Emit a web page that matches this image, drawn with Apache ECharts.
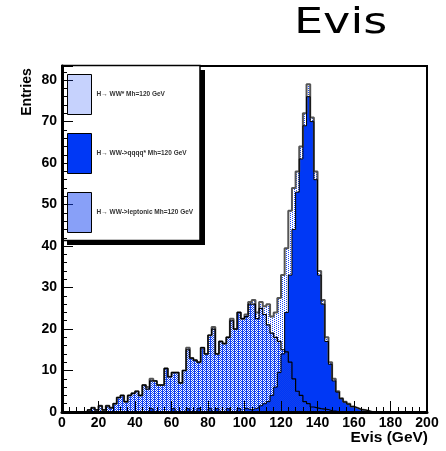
<!DOCTYPE html>
<html>
<head>
<meta charset="utf-8">
<script src="https://cdn.jsdelivr.net/npm/echarts@6/dist/echarts.min.js"></script>
<style>
  html, body { margin: 0; padding: 0; background: #fff; }
  #chart { width: 446px; height: 451px; }
</style>
</head>
<body>
<div id="chart"></div>
<script>
// Evis histograms, 2 GeV bins from 0 to 200 GeV
const BIN_WIDTH = 2;
const seriesNames = ['H\u2192 WW* Mh=120 GeV', 'H\u2192 WW->qqqq* Mh=120 GeV', 'H\u2192 WW->leptonic Mh=120 GeV'];

// all H->WW* events
const totalCounts = [
  0, 0, 0, 0, 0, 0, 0, 0.5, 1, 0.5,
  1.5, 0.5, 1.5, 1, 2, 3.5, 4, 2.5, 4, 4.5,
  5, 4, 6.5, 6, 8, 7.5, 6.5, 6.5, 10.5, 8.5,
  9.5, 9.5, 7, 10, 15.5, 13, 12.5, 12, 15.5, 14,
  18.5, 20.5, 14, 17, 16.5, 18, 22.5, 20, 24, 22.5,
  23.5, 26.5, 27, 24, 26.5, 25.5, 26, 23, 24, 27.5,
  33, 39.5, 48.5, 54, 58, 64, 72, 79, 71, 58,
  34, 27, 18, 12, 8, 5, 3.3, 2.5, 2, 1.3,
  1, 0.6, 0.5, 0.3, 0, 0, 0, 0, 0, 0,
  0, 0, 0, 0, 0, 0, 0, 0, 0, 0
];
// WW -> qqqq
const qqqqCounts = [
  0, 0, 0, 0, 0, 0, 0, 0, 0, 0,
  0, 0, 0, 0, 0, 0, 0, 0, 0, 0,
  0, 0, 0, 0, 0.8, 0, 0, 0, 0, 0,
  0.8, 0, 0, 0, 0.8, 0, 0, 0.8, 0, 0,
  0.8, 0, 0.8, 0, 0, 0.8, 0, 0, 0.8, 0,
  0.8, 0.5, 0.8, 1, 1.5, 2, 2.5, 4, 6, 9.5,
  14, 24, 33, 44, 53, 61, 69, 76, 70, 56,
  33, 26, 17, 11.5, 7.5, 4.8, 3.2, 2.4, 1.9, 1.3,
  1, 0.6, 0.5, 0.3, 0, 0, 0, 0, 0, 0,
  0, 0, 0, 0, 0, 0, 0, 0, 0, 0
];
// WW -> leptonic
const leptonicCounts = [
  0, 0, 0, 0, 0, 0, 0, 0.5, 1, 0.5,
  1.5, 0.5, 1.5, 1, 2, 3.5, 4, 2.5, 4, 4.5,
  5, 4, 6.5, 5.5, 7.5, 7.5, 6.5, 6.5, 10.5, 8.5,
  9.5, 9.5, 7, 10, 15, 13, 12.5, 12, 15.5, 14,
  18.5, 20, 14, 17, 16.5, 18, 22, 20, 24, 22.5,
  23, 26, 26, 22.5, 25, 23.5, 21, 19, 18, 17,
  15, 14.5, 12, 8, 5, 4, 2.5, 2, 1.2, 1,
  0.8, 0.7, 0.6, 0.3, 0.2, 0, 0, 0, 0, 0,
  0, 0, 0, 0, 0, 0, 0, 0, 0, 0,
  0, 0, 0, 0, 0, 0, 0, 0, 0, 0
];
const xTicks = [0, 20, 40, 60, 80, 100, 120, 140, 160, 180, 200];
const yTicks = [0, 10, 20, 30, 40, 50, 60, 70, 80];

// step data: low edge of each bin plus the closing edge
function stepData(counts) {
  const pts = counts.map((v, i) => [i * BIN_WIDTH, v]);
  pts.push([counts.length * BIN_WIDTH, counts[counts.length - 1]]);
  return pts;
}

// ROOT style fill patterns (transparent background)
function makePattern(w, h, pixels, color) {
  const c = document.createElement('canvas');
  c.width = w; c.height = h;
  const ctx = c.getContext('2d');
  ctx.fillStyle = color;
  pixels.forEach(p => ctx.fillRect(p[0], p[1], 1, 1));
  return { image: c, repeat: 'repeat' };
}
const BLUE = '#0038f5';
const dotFill = makePattern(4, 2, [[0, 0], [2, 1]], '#1a48f5');
const checkFill = makePattern(2, 2, [[0, 0], [1, 1]], '#1040f0');

const FONT = '"Liberation Sans", Arial, sans-serif';
const chart = echarts.init(document.getElementById('chart'), null, { renderer: 'canvas' });

chart.setOption({
  animation: false,
  backgroundColor: '#fff',
  grid: {
    left: 62, right: 19, top: 66, bottom: 39,
    show: true, borderColor: '#000', borderWidth: 2, backgroundColor: 'transparent'
  },
  xAxis: {
    type: 'value', min: 0, max: 200, interval: 20, z: 10,
    axisLine: { onZero: false, lineStyle: { color: '#000', width: 3 } },
    axisTick: { inside: true, length: 11, lineStyle: { color: '#000', width: 1 } },
    minorTick: { show: true, splitNumber: 5, length: 5, lineStyle: { color: '#000', width: 1 } },
    splitLine: { show: false },
    axisLabel: {
      margin: 4, color: '#000', fontWeight: 'bold', fontSize: 14, fontFamily: FONT,
      formatter: v => (xTicks.indexOf(v) >= 0 ? String(v) : '')
    }
  },
  yAxis: {
    type: 'value', min: 0, max: 83.4, interval: 10, z: 10,
    axisLine: { onZero: false, lineStyle: { color: '#000', width: 3 } },
    axisTick: { inside: true, length: 11, lineStyle: { color: '#000', width: 1 } },
    minorTick: { show: true, splitNumber: 5, length: 5, lineStyle: { color: '#000', width: 1 } },
    splitLine: { show: false },
    axisLabel: {
      margin: 5, color: '#000', fontWeight: 'bold', fontSize: 14, fontFamily: FONT,
      showMaxLabel: false,
      formatter: v => (yTicks.indexOf(v) >= 0 ? String(v) : '')
    }
  },
  legend: {
    orient: 'vertical', left: 62, top: 69, z: 20, padding: 5,
    itemWidth: 24, itemHeight: 40, itemGap: 18, icon: 'rect',
    selectedMode: false,
    textStyle: { fontSize: 6.5, fontWeight: 'bold', color: '#333', fontFamily: FONT },
    data: [
      { name: seriesNames[0], itemStyle: { color: dotFill, borderColor: '#000', borderWidth: 1 } },
      { name: seriesNames[1], itemStyle: { color: BLUE, borderColor: '#000', borderWidth: 1 } },
      { name: seriesNames[2], itemStyle: { color: checkFill, borderColor: '#000', borderWidth: 1 } }
    ]
  },
  graphic: [
    // legend box with shadow
    { type: 'rect', z: 5, shape: { x: 200, y: 70, width: 5, height: 175 }, style: { fill: '#000' } },
    { type: 'rect', z: 5, shape: { x: 67, y: 240, width: 138, height: 5 }, style: { fill: '#000' } },
    { type: 'rect', z: 5, shape: { x: 62, y: 65.5, width: 138, height: 175 }, style: { fill: '#fff', stroke: '#000', lineWidth: 1.5 } },
    { type: 'text', x: 294, y: 24, scaleX: 1.28, z: 5,
      style: { text: 'Evis', font: '36px "DejaVu Sans", sans-serif', fill: '#000', align: 'left', verticalAlign: 'middle' } },
    { type: 'text', x: 27, y: 92, rotation: Math.PI / 2, z: 5,
      style: { text: 'Entries', font: 'bold 14px ' + FONT, fill: '#000', align: 'center', verticalAlign: 'middle' } },
    { type: 'text', x: 428, y: 438, z: 5,
      style: { text: 'Evis (GeV)', font: 'bold 15.5px ' + FONT, fill: '#000', align: 'right', verticalAlign: 'middle' } }
  ],
  series: [
    {
      name: seriesNames[0], type: 'line', step: 'end', symbol: 'none',
      data: stepData(totalCounts),
      lineStyle: { color: '#555', width: 2 },
      itemStyle: { color: '#555' },
      areaStyle: { color: dotFill, opacity: 1, origin: 'start' }
    },
    {
      name: seriesNames[1], type: 'line', step: 'end', symbol: 'none',
      data: stepData(qqqqCounts),
      lineStyle: { color: '#000', width: 1 },
      itemStyle: { color: '#000' },
      areaStyle: { color: BLUE, opacity: 1, origin: 'start' }
    },
    {
      name: seriesNames[2], type: 'line', step: 'end', symbol: 'none',
      data: stepData(leptonicCounts),
      lineStyle: { color: '#000', width: 1.2 },
      itemStyle: { color: '#000' },
      areaStyle: { color: checkFill, opacity: 1, origin: 'start' }
    }
  ]
});
</script>
</body>
</html>
